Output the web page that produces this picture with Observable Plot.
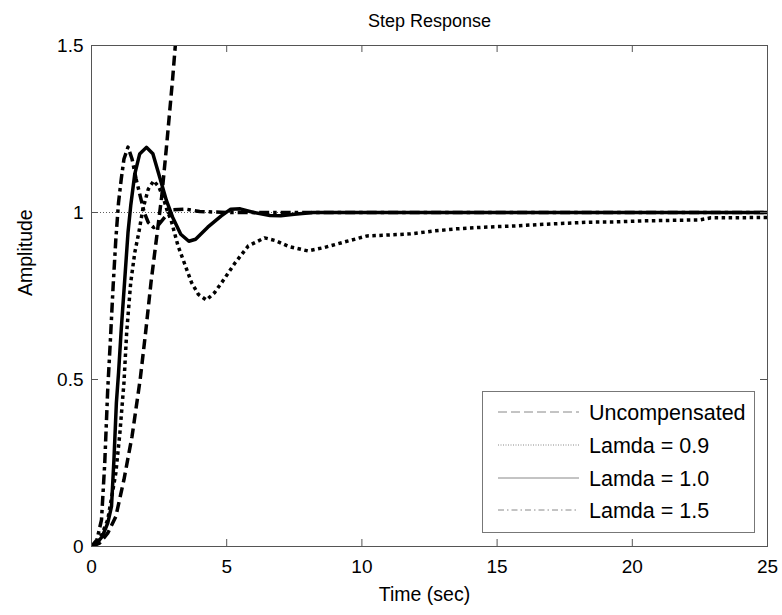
<!DOCTYPE html>
<html>
<head>
<meta charset="utf-8">
<script src="https://cdn.jsdelivr.net/npm/d3@7"></script>
<script src="https://cdn.jsdelivr.net/npm/@observablehq/plot@0.6"></script>
<style>
  html, body { margin: 0; padding: 0; background: #fff; }
  #wrap { position: relative; width: 782px; height: 615px; font-family: "Liberation Sans", Arial, sans-serif; }
  #legend { position: absolute; left: 482px; top: 391px; width: 273px; height: 142px; box-sizing: border-box; border: 1px solid #777; background: #fff; }
</style>
</head>
<body>
<div id="wrap"></div>
<script>
// ---- data ----
const title = "Step Response";
const xLabel = "Time (sec)";
const yLabel = "Amplitude";
const xTicks = [0, 5, 10, 15, 20, 25];
const yTicks = [0, 0.5, 1, 1.5];
const steadyState = [1];

const seriesNames = ["Uncompensated", "Lamda = 0.9", "Lamda = 1.0", "Lamda = 1.5"];

const timeUncomp = [0, 0.3, 0.6, 0.9, 1.2, 1.5, 1.8, 2.0, 2.2, 2.4, 2.6, 2.8, 3.0, 3.2];
const ampUncomp  = [0, 0.01, 0.04, 0.09, 0.2, 0.33, 0.5, 0.64, 0.79, 0.92, 1.05, 1.22, 1.4, 1.6];

const timeL09 = [0, 0.3, 0.6, 0.9, 1.05, 1.2, 1.3, 1.45, 1.6, 1.75, 1.9, 2.1, 2.3, 2.5, 2.65, 2.8, 2.95, 3.2, 3.45, 3.7, 3.95, 4.25, 4.55, 4.9, 5.3, 5.8, 6.4, 6.8, 7.3, 8.0, 8.6, 9.5, 10.2, 10.8, 11.8, 12.7, 13.5, 14.5, 15.7, 16.8, 18.4, 19.4, 20.4, 22.5, 22.9, 25];
const ampL09  = [0, 0.02, 0.08, 0.22, 0.34, 0.49, 0.64, 0.79, 0.88, 0.94, 1.01, 1.07, 1.095, 1.075, 1.045, 1.005, 0.975, 0.9, 0.845, 0.79, 0.755, 0.738, 0.76, 0.8, 0.848, 0.9, 0.924, 0.916, 0.898, 0.885, 0.895, 0.915, 0.93, 0.932, 0.936, 0.945, 0.951, 0.956, 0.96, 0.965, 0.971, 0.972, 0.975, 0.978, 0.984, 0.985];

const timeL10 = [0, 0.2, 0.4, 0.6, 0.74, 0.83, 0.92, 1.0, 1.1, 1.23, 1.35, 1.45, 1.6, 1.78, 2.03, 2.27, 2.52, 2.77, 3.0, 3.3, 3.6, 3.85, 4.3, 4.8, 5.15, 5.5, 6.0, 6.6, 7.0, 7.5, 8.2, 25];
const ampL10  = [0, 0.01, 0.03, 0.07, 0.12, 0.26, 0.43, 0.52, 0.65, 0.8, 0.94, 1.02, 1.115, 1.175, 1.195, 1.176, 1.106, 1.036, 0.986, 0.935, 0.914, 0.92, 0.956, 0.99, 1.01, 1.011, 1.0, 0.991, 0.99, 0.995, 1.0, 1.0];

const timeL15 = [0, 0.2, 0.37, 0.49, 0.6, 0.7, 0.8, 0.9, 1.0, 1.1, 1.2, 1.35, 1.5, 1.65, 1.8, 1.95, 2.1, 2.3, 2.5, 2.75, 3.0, 3.5, 4.0, 5.0, 25];
const ampL15  = [0, 0.02, 0.08, 0.25, 0.47, 0.62, 0.78, 0.92, 1.03, 1.1, 1.16, 1.196, 1.16, 1.1, 1.05, 1.0, 0.97, 0.955, 0.965, 0.99, 1.008, 1.01, 1.003, 1.0, 1.0];

const plotDashes   = ["10,5", "3.5,3.5", null, "10,4,3.5,4"];
const legendDashes = ["9,4", "1,1.5", null, "6,3,1.5,3"];

// ---- build table ----
const seriesTimes = [timeUncomp, timeL09, timeL10, timeL15];
const seriesAmps = [ampUncomp, ampL09, ampL10, ampL15];
const tables = seriesNames.map((name, i) =>
  seriesTimes[i].map((t, j) => ({series: name, t, amp: seriesAmps[i][j]})));

const W = 782, H = 615;
const mL = 91, mR = 15, mT = 45, mB = 69;
const frameW = W - mL - mR, frameH = H - mT - mB;
const tickLen = 7;
const axisColor = "#555";

const lineMarks = tables.map((rows, i) => Plot.line(rows, {
  x: "t", y: "amp", stroke: "#000", strokeWidth: 3.5,
  strokeDasharray: plotDashes[i] ?? undefined,
  strokeLinecap: "butt", strokeLinejoin: "round", clip: true
}));

const chart = Plot.plot({
  width: W, height: H,
  marginLeft: mL, marginRight: mR, marginTop: mT, marginBottom: mB,
  style: {fontFamily: "'Liberation Sans', Arial, sans-serif", fontSize: "19px", color: "#000", background: "#fff"},
  x: {domain: [0, 25]},
  y: {domain: [0, 1.5]},
  marks: [
    Plot.ruleY(steadyState, {stroke: "#333", strokeWidth: 0.8, strokeDasharray: "1,2"}),
    ...lineMarks,
    Plot.frame({stroke: axisColor, strokeWidth: 1}),
    Plot.tickX(xTicks, {x: d => d, insetTop: frameH - tickLen, stroke: axisColor}),
    Plot.tickX(xTicks, {x: d => d, insetBottom: frameH - tickLen, stroke: axisColor}),
    Plot.tickY(yTicks, {y: d => d, insetRight: frameW - tickLen, stroke: axisColor}),
    Plot.tickY(yTicks, {y: d => d, insetLeft: frameW - tickLen, stroke: axisColor}),
    Plot.axisX({ticks: xTicks, tickSize: 0, tickPadding: 13, label: null, fontSize: 19, tickFormat: d3.format("")}),
    Plot.axisY({ticks: yTicks, tickSize: 0, tickPadding: 8, label: null, fontSize: 19, tickFormat: d => String(d)}),
    Plot.text([title], {frameAnchor: "top", dy: -31, fontSize: 18, fill: "#000"}),
    Plot.text([xLabel], {frameAnchor: "bottom", dy: 54, dx: -5, fontSize: 19.5, fill: "#000"}),
    Plot.text([yLabel], {frameAnchor: "left", dx: -66, rotate: -90, fontSize: 19.5, fill: "#000"})
  ]
});

const wrap = document.getElementById("wrap");
wrap.appendChild(chart);

// ---- legend (inside the axes, bottom right) ----
const legend = document.createElement("div");
legend.id = "legend";
const ns = "http://www.w3.org/2000/svg";
const lsvg = document.createElementNS(ns, "svg");
lsvg.setAttribute("width", 271);
lsvg.setAttribute("height", 140);
const rowY = [20, 53, 86, 118];
seriesNames.forEach((name, i) => {
  const ln = document.createElementNS(ns, "line");
  ln.setAttribute("x1", 15); ln.setAttribute("x2", 96);
  ln.setAttribute("y1", rowY[i]); ln.setAttribute("y2", rowY[i]);
  ln.setAttribute("stroke", "#888"); ln.setAttribute("stroke-width", 1);
  if (legendDashes[i]) ln.setAttribute("stroke-dasharray", legendDashes[i]);
  lsvg.appendChild(ln);
  const tx = document.createElementNS(ns, "text");
  tx.setAttribute("x", 106); tx.setAttribute("y", rowY[i]);
  tx.setAttribute("dy", "0.35em");
  tx.setAttribute("font-size", 21.5);
  tx.setAttribute("font-family", "'Liberation Sans', Arial, sans-serif");
  tx.textContent = name;
  lsvg.appendChild(tx);
});
legend.appendChild(lsvg);
wrap.appendChild(legend);
</script>
</body>
</html>
